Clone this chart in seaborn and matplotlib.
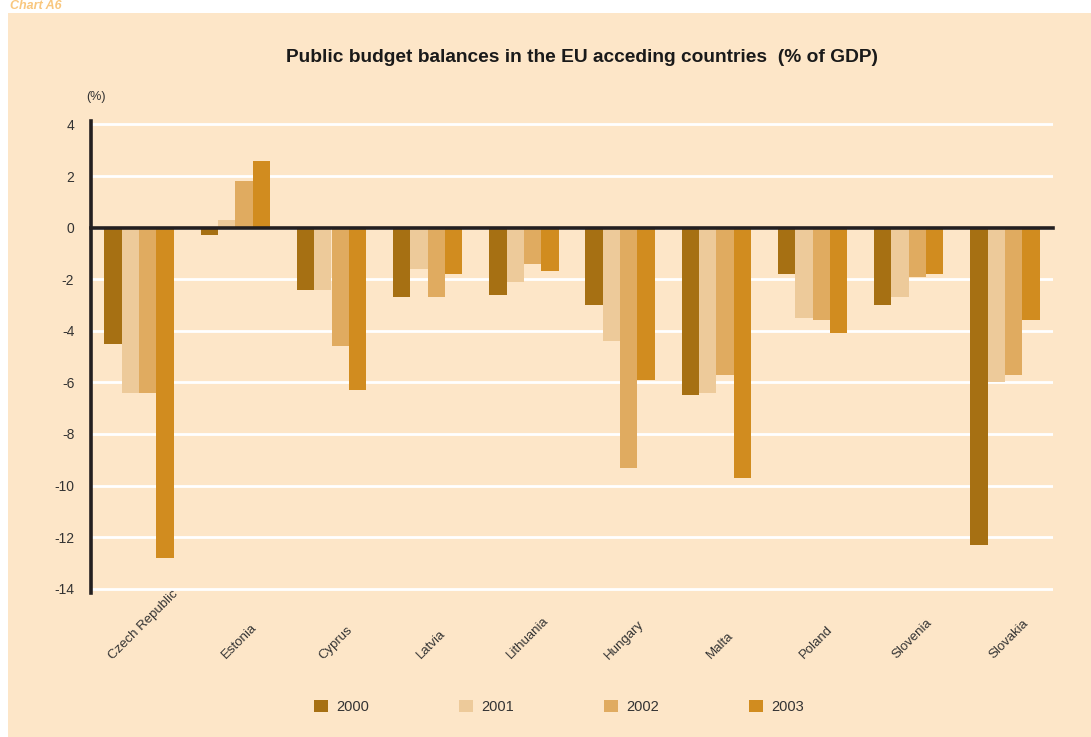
import matplotlib
matplotlib.use("Agg")
import matplotlib.pyplot as plt
import matplotlib.transforms as mtrans
import seaborn as sns
import pandas as pd
from matplotlib.patches import Rectangle

countries = ["Czech Republic", "Estonia", "Cyprus", "Latvia", "Lithuania",
             "Hungary", "Malta", "Poland", "Slovenia", "Slovakia"]
years = ["2000", "2001", "2002", "2003"]
v2000 = [-4.5, -0.3, -2.4, -2.7, -2.6, -3.0, -6.5, -1.8, -3.0, -12.3]
v2001 = [-6.4, 0.3, -2.4, -1.6, -2.1, -4.4, -6.4, -3.5, -2.7, -6.0]
v2002 = [-6.4, 1.8, -4.6, -2.7, -1.4, -9.3, -5.7, -3.6, -1.9, -5.7]
v2003 = [-12.8, 2.6, -6.3, -1.8, -1.7, -5.9, -9.7, -4.1, -1.8, -3.6]
yticks = [4, 2, 0, -2, -4, -6, -8, -10, -12, -14]

colors = ["#A67013", "#EDCA9A", "#E0AB60", "#D18C1F"]
bg = "#FDE6C8"
dark = "#231F20"
txt = "#333333"

rows = []
for yr, vals in zip(years, [v2000, v2001, v2002, v2003]):
    for c, v in zip(countries, vals):
        rows.append({"country": c, "year": yr, "value": v})
df = pd.DataFrame(rows)

sns.set_theme(style="white")
plt.rcParams["font.family"] = ["Liberation Sans", "DejaVu Sans"]

fig = plt.figure(figsize=(10.91, 7.37), dpi=100)
fig.patch.set_facecolor("white")
fig.patches.append(Rectangle((8 / 1091, 0), 1 - 8 / 1091, 1 - 13 / 737,
                             transform=fig.transFigure, facecolor=bg,
                             edgecolor="none", zorder=-5))
fig.text(10 / 1091, 1 - 6 / 737, "Chart A6", color="#F9C77E", fontsize=9,
         fontweight="bold", fontstyle="italic", ha="left", va="center")

ax = fig.add_axes([91 / 1091, 1 - 592.6 / 737, (1053 - 91) / 1091, (592.6 - 120.6) / 737])
ax.set_facecolor(bg)

sns.barplot(data=df, x="country", y="value", hue="year", order=countries,
            hue_order=years, palette=colors, saturation=1, width=0.72,
            linewidth=0, errorbar=None, ax=ax, zorder=3)

ax.set_xlim(-0.5, len(countries) - 0.5)
ax.set_ylim(-14.15, 4.15)
ax.set_yticks(yticks)
ax.set_yticklabels([str(t) for t in yticks], color=txt, fontsize=10)
ax.tick_params(axis="y", length=0, pad=12)
for t in yticks:
    ax.axhline(t, color="white", lw=2, zorder=1)

for s in ["top", "right"]:
    ax.spines[s].set_visible(False)
ax.spines["left"].set_color(dark)
ax.spines["left"].set_linewidth(2.6)
ax.spines["left"].set_zorder(5)
ax.spines["bottom"].set_position(("data", 0))
ax.spines["bottom"].set_color(dark)
ax.spines["bottom"].set_linewidth(2.6)
ax.spines["bottom"].set_zorder(5)

ax.set_xticks([i + 0.5 for i in range(len(countries))])
ax.set_xticklabels([])
ax.tick_params(axis="x", direction="in", length=6, width=1.2, color=dark)
ax.set_xlabel("")
ax.set_ylabel("")

shift = ax.transData + mtrans.ScaledTranslation(4 / 100, -69 / 100, fig.dpi_scale_trans)
for i, c in enumerate(countries):
    ax.text(i, -14.15, c, rotation=45, ha="center", va="bottom",
            fontsize=9.5, color=txt, transform=shift, clip_on=False)

fig.text(96 / 1091, 1 - 97 / 737, "(%)", fontsize=9, color=txt, ha="center", va="center")
fig.text(582 / 1091, 1 - 57 / 737,
         "Public budget balances in the EU acceding countries  (% of GDP)",
         fontsize=13.8, fontweight="bold", color="#1a1a1a", ha="center", va="center")

handles, labels = ax.get_legend_handles_labels()
ax.legend_.remove()
fig.legend(handles, labels, loc="center", bbox_to_anchor=(559 / 1091, 1 - 707 / 737),
           ncol=4, frameon=False, fontsize=10.5, handlelength=0.95, handleheight=0.95,
           handletextpad=0.6, columnspacing=6.15, labelcolor=txt)

fig.savefig("out.png", dpi=100, facecolor=fig.get_facecolor())
